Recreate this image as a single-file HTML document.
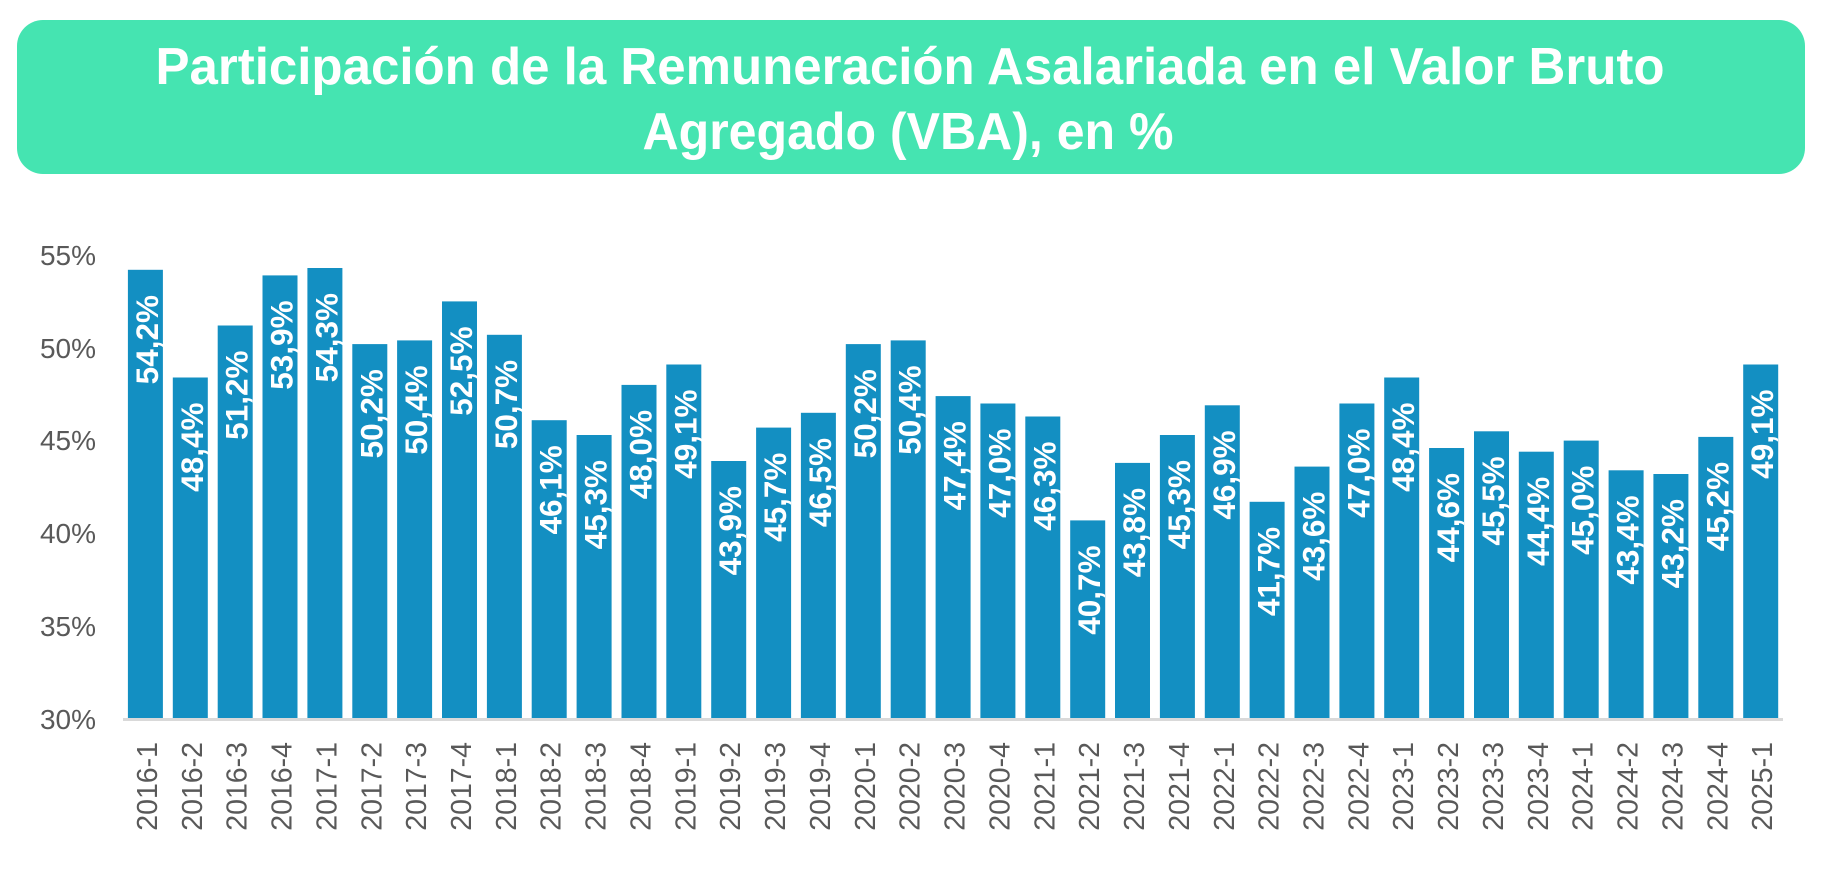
<!DOCTYPE html>
<html><head><meta charset="utf-8"><style>
html,body{margin:0;padding:0;background:#fff;}
svg{display:block;}
.yl{font:28px "Liberation Sans",sans-serif;fill:#595959;text-anchor:end;}
.xl{font:28.5px "Liberation Sans",sans-serif;fill:#595959;text-anchor:end;}
.vl{font:bold 31.5px "Liberation Sans",sans-serif;fill:#fff;text-anchor:end;}
</style></head><body>
<svg width="1822" height="880" viewBox="0 0 1822 880" xmlns="http://www.w3.org/2000/svg">
<rect x="17" y="20" width="1788" height="154" rx="26" fill="#45e4b1"/>
<text x="910" y="84" text-anchor="middle" textLength="1509" lengthAdjust="spacingAndGlyphs" style="font:bold 52px 'Liberation Sans',sans-serif;fill:#fff">Participación de la Remuneración Asalariada en el Valor Bruto</text>
<text x="908" y="149" text-anchor="middle" textLength="531" lengthAdjust="spacingAndGlyphs" style="font:bold 52px 'Liberation Sans',sans-serif;fill:#fff">Agregado (VBA), en %</text>

<text class="yl" x="96" y="265">55%</text>
<text class="yl" x="96" y="358">50%</text>
<text class="yl" x="96" y="450">45%</text>
<text class="yl" x="96" y="543">40%</text>
<text class="yl" x="96" y="636">35%</text>
<text class="yl" x="96" y="729">30%</text>

<g fill="#138fc2">
<rect x="127.9" y="269.8" width="35" height="449.2"/>
<rect x="172.8" y="377.5" width="35" height="341.5"/>
<rect x="217.7" y="325.5" width="35" height="393.5"/>
<rect x="262.5" y="275.4" width="35" height="443.6"/>
<rect x="307.4" y="268.0" width="35" height="451.0"/>
<rect x="352.3" y="344.1" width="35" height="374.9"/>
<rect x="397.1" y="340.4" width="35" height="378.6"/>
<rect x="442.0" y="301.4" width="35" height="417.6"/>
<rect x="486.9" y="334.8" width="35" height="384.2"/>
<rect x="531.7" y="420.2" width="35" height="298.8"/>
<rect x="576.6" y="435.0" width="35" height="284.0"/>
<rect x="621.5" y="384.9" width="35" height="334.1"/>
<rect x="666.3" y="364.5" width="35" height="354.5"/>
<rect x="711.2" y="461.0" width="35" height="258.0"/>
<rect x="756.1" y="427.6" width="35" height="291.4"/>
<rect x="800.9" y="412.8" width="35" height="306.2"/>
<rect x="845.8" y="344.1" width="35" height="374.9"/>
<rect x="890.7" y="340.4" width="35" height="378.6"/>
<rect x="935.6" y="396.1" width="35" height="322.9"/>
<rect x="980.4" y="403.5" width="35" height="315.5"/>
<rect x="1025.3" y="416.5" width="35" height="302.5"/>
<rect x="1070.2" y="520.4" width="35" height="198.6"/>
<rect x="1115.0" y="462.9" width="35" height="256.1"/>
<rect x="1159.9" y="435.0" width="35" height="284.0"/>
<rect x="1204.8" y="405.3" width="35" height="313.7"/>
<rect x="1249.6" y="501.8" width="35" height="217.2"/>
<rect x="1294.5" y="466.6" width="35" height="252.4"/>
<rect x="1339.4" y="403.5" width="35" height="315.5"/>
<rect x="1384.2" y="377.5" width="35" height="341.5"/>
<rect x="1429.1" y="448.0" width="35" height="271.0"/>
<rect x="1474.0" y="431.3" width="35" height="287.7"/>
<rect x="1518.8" y="451.7" width="35" height="267.3"/>
<rect x="1563.7" y="440.6" width="35" height="278.4"/>
<rect x="1608.6" y="470.3" width="35" height="248.7"/>
<rect x="1653.4" y="474.0" width="35" height="245.0"/>
<rect x="1698.3" y="436.9" width="35" height="282.1"/>
<rect x="1743.2" y="364.5" width="35" height="354.5"/>
</g>
<rect x="123" y="718" width="1660" height="3" fill="#d9d9d9"/>

<g>
<text class="vl" transform="translate(157.9,295) rotate(-90)">54,2%</text>
<text class="vl" transform="translate(202.8,402.5) rotate(-90)">48,4%</text>
<text class="vl" transform="translate(247.7,350.5) rotate(-90)">51,2%</text>
<text class="vl" transform="translate(292.5,300.4) rotate(-90)">53,9%</text>
<text class="vl" transform="translate(337.4,293.0) rotate(-90)">54,3%</text>
<text class="vl" transform="translate(382.3,369.1) rotate(-90)">50,2%</text>
<text class="vl" transform="translate(427.1,365.4) rotate(-90)">50,4%</text>
<text class="vl" transform="translate(472.0,326.4) rotate(-90)">52,5%</text>
<text class="vl" transform="translate(516.9,359.8) rotate(-90)">50,7%</text>
<text class="vl" transform="translate(561.7,445.2) rotate(-90)">46,1%</text>
<text class="vl" transform="translate(606.6,460.0) rotate(-90)">45,3%</text>
<text class="vl" transform="translate(651.5,409.9) rotate(-90)">48,0%</text>
<text class="vl" transform="translate(696.3,389.5) rotate(-90)">49,1%</text>
<text class="vl" transform="translate(741.2,486.0) rotate(-90)">43,9%</text>
<text class="vl" transform="translate(786.1,452.6) rotate(-90)">45,7%</text>
<text class="vl" transform="translate(830.9,437.8) rotate(-90)">46,5%</text>
<text class="vl" transform="translate(875.8,369.1) rotate(-90)">50,2%</text>
<text class="vl" transform="translate(920.7,365.4) rotate(-90)">50,4%</text>
<text class="vl" transform="translate(965.6,421.1) rotate(-90)">47,4%</text>
<text class="vl" transform="translate(1010.4,428.5) rotate(-90)">47,0%</text>
<text class="vl" transform="translate(1055.3,441.5) rotate(-90)">46,3%</text>
<text class="vl" transform="translate(1100.2,545.4) rotate(-90)">40,7%</text>
<text class="vl" transform="translate(1145.0,487.9) rotate(-90)">43,8%</text>
<text class="vl" transform="translate(1189.9,460.0) rotate(-90)">45,3%</text>
<text class="vl" transform="translate(1234.8,430.3) rotate(-90)">46,9%</text>
<text class="vl" transform="translate(1279.6,526.8) rotate(-90)">41,7%</text>
<text class="vl" transform="translate(1324.5,491.6) rotate(-90)">43,6%</text>
<text class="vl" transform="translate(1369.4,428.5) rotate(-90)">47,0%</text>
<text class="vl" transform="translate(1414.2,402.5) rotate(-90)">48,4%</text>
<text class="vl" transform="translate(1459.1,473.0) rotate(-90)">44,6%</text>
<text class="vl" transform="translate(1504.0,456.3) rotate(-90)">45,5%</text>
<text class="vl" transform="translate(1548.8,476.7) rotate(-90)">44,4%</text>
<text class="vl" transform="translate(1593.7,465.6) rotate(-90)">45,0%</text>
<text class="vl" transform="translate(1638.6,495.3) rotate(-90)">43,4%</text>
<text class="vl" transform="translate(1683.4,499.0) rotate(-90)">43,2%</text>
<text class="vl" transform="translate(1728.3,461.9) rotate(-90)">45,2%</text>
<text class="vl" transform="translate(1773.2,389.5) rotate(-90)">49,1%</text>
</g>

<g>
<text class="xl" transform="translate(156.9,742) rotate(-90)">2016-1</text>
<text class="xl" transform="translate(201.8,742) rotate(-90)">2016-2</text>
<text class="xl" transform="translate(246.7,742) rotate(-90)">2016-3</text>
<text class="xl" transform="translate(291.5,742) rotate(-90)">2016-4</text>
<text class="xl" transform="translate(336.4,742) rotate(-90)">2017-1</text>
<text class="xl" transform="translate(381.3,742) rotate(-90)">2017-2</text>
<text class="xl" transform="translate(426.1,742) rotate(-90)">2017-3</text>
<text class="xl" transform="translate(471.0,742) rotate(-90)">2017-4</text>
<text class="xl" transform="translate(515.9,742) rotate(-90)">2018-1</text>
<text class="xl" transform="translate(560.7,742) rotate(-90)">2018-2</text>
<text class="xl" transform="translate(605.6,742) rotate(-90)">2018-3</text>
<text class="xl" transform="translate(650.5,742) rotate(-90)">2018-4</text>
<text class="xl" transform="translate(695.3,742) rotate(-90)">2019-1</text>
<text class="xl" transform="translate(740.2,742) rotate(-90)">2019-2</text>
<text class="xl" transform="translate(785.1,742) rotate(-90)">2019-3</text>
<text class="xl" transform="translate(829.9,742) rotate(-90)">2019-4</text>
<text class="xl" transform="translate(874.8,742) rotate(-90)">2020-1</text>
<text class="xl" transform="translate(919.7,742) rotate(-90)">2020-2</text>
<text class="xl" transform="translate(964.6,742) rotate(-90)">2020-3</text>
<text class="xl" transform="translate(1009.4,742) rotate(-90)">2020-4</text>
<text class="xl" transform="translate(1054.3,742) rotate(-90)">2021-1</text>
<text class="xl" transform="translate(1099.2,742) rotate(-90)">2021-2</text>
<text class="xl" transform="translate(1144.0,742) rotate(-90)">2021-3</text>
<text class="xl" transform="translate(1188.9,742) rotate(-90)">2021-4</text>
<text class="xl" transform="translate(1233.8,742) rotate(-90)">2022-1</text>
<text class="xl" transform="translate(1278.6,742) rotate(-90)">2022-2</text>
<text class="xl" transform="translate(1323.5,742) rotate(-90)">2022-3</text>
<text class="xl" transform="translate(1368.4,742) rotate(-90)">2022-4</text>
<text class="xl" transform="translate(1413.2,742) rotate(-90)">2023-1</text>
<text class="xl" transform="translate(1458.1,742) rotate(-90)">2023-2</text>
<text class="xl" transform="translate(1503.0,742) rotate(-90)">2023-3</text>
<text class="xl" transform="translate(1547.8,742) rotate(-90)">2023-4</text>
<text class="xl" transform="translate(1592.7,742) rotate(-90)">2024-1</text>
<text class="xl" transform="translate(1637.6,742) rotate(-90)">2024-2</text>
<text class="xl" transform="translate(1682.4,742) rotate(-90)">2024-3</text>
<text class="xl" transform="translate(1727.3,742) rotate(-90)">2024-4</text>
<text class="xl" transform="translate(1772.2,742) rotate(-90)">2025-1</text>
</g>
</svg>
</body></html>
